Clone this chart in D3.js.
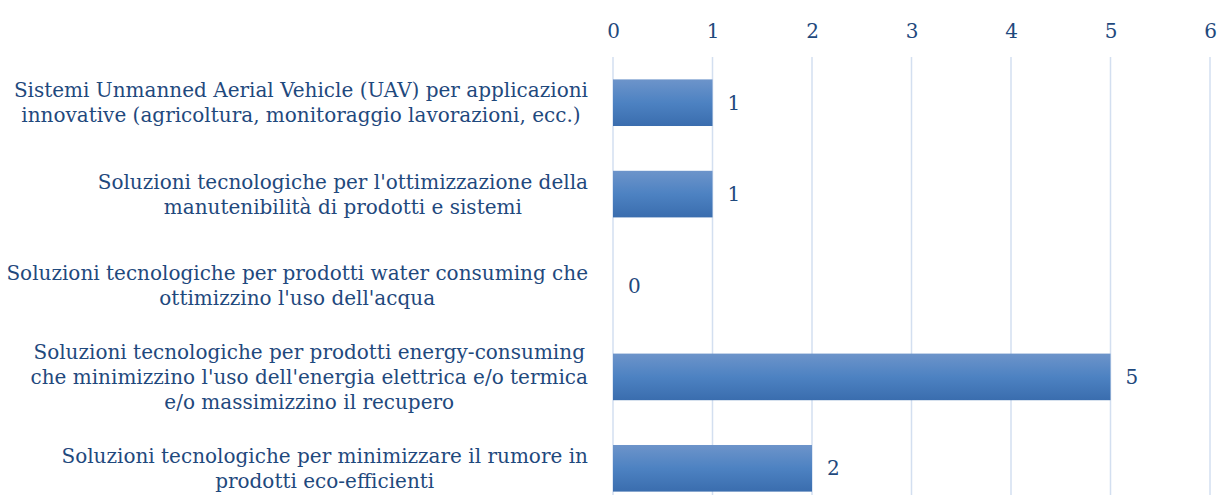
<!DOCTYPE html>
<html>
<head>
<meta charset="utf-8">
<script src="https://cdn.jsdelivr.net/npm/d3@7"></script>
<style>
  body { margin: 0; background: #fff; }
  text { font-family: "DejaVu Serif", serif; fill: #1F497D; }
</style>
</head>
<body>
<div id="chart"></div>
<script>
// categories (lines split as in the original chart)
var categories = [
  "Sistemi Unmanned Aerial Vehicle (UAV) per applicazioni\ninnovative (agricoltura, monitoraggio lavorazioni, ecc.)",
  "Soluzioni tecnologiche per l'ottimizzazione della\nmanutenibilità di prodotti e sistemi",
  "Soluzioni tecnologiche per prodotti water consuming che\nottimizzino l'uso dell'acqua",
  "Soluzioni tecnologiche per prodotti energy-consuming\nche minimizzino l'uso dell'energia elettrica e/o termica\ne/o massimizzino il recupero",
  "Soluzioni tecnologiche per minimizzare il rumore in\nprodotti eco-efficienti"
];
var values = [1, 1, 0, 5, 2];
var xTicks = [0, 1, 2, 3, 4, 5, 6];

var width = 1218, height = 495;
var margin = {top: 57, left: 613, right: 8};
var plotBottom = 514; // plot runs past the bottom of the picture

var svg = d3.select("#chart")
  .append("svg")
    .attr("width", width)
    .attr("height", height);

var grad = svg.append("defs").append("linearGradient")
    .attr("id", "barGrad")
    .attr("x1", 0).attr("y1", 0).attr("x2", 0).attr("y2", 1);
grad.append("stop").attr("offset", "0%").attr("stop-color", "#6D94CA");
grad.append("stop").attr("offset", "50%").attr("stop-color", "#4D82C2");
grad.append("stop").attr("offset", "100%").attr("stop-color", "#3A6DAE");

var x = d3.scaleLinear()
    .domain([0, 6])
    .range([margin.left, width - margin.right]);

var y = d3.scaleBand()
    .domain(categories)
    .range([margin.top, plotBottom])
    .paddingInner(0.49)
    .paddingOuter(0.245);

// gridlines
svg.append("g")
  .selectAll("line")
  .data(xTicks)
  .enter()
  .append("line")
    .attr("x1", function(d) { return x(d); })
    .attr("x2", function(d) { return x(d); })
    .attr("y1", margin.top)
    .attr("y2", plotBottom)
    .attr("stroke", "#D3DFF0")
    .attr("stroke-width", 1.5);

// top axis labels
var xAxis = svg.append("g")
    .attr("transform", "translate(0,38)")
    .call(d3.axisTop(x).tickValues(xTicks).tickFormat(d3.format("d")).tickSize(0).tickPadding(0));
xAxis.select(".domain").remove();
xAxis.selectAll("text")
    .attr("font-size", "20px")
    .attr("font-family", "DejaVu Serif, serif")
    .attr("fill", "#1F497D");

// bars
svg.append("g")
  .selectAll("rect")
  .data(values)
  .enter()
  .append("rect")
    .attr("x", x(0))
    .attr("y", function(d, i) { return y(categories[i]); })
    .attr("width", function(d) { return x(d) - x(0); })
    .attr("height", y.bandwidth())
    .attr("fill", "url(#barGrad)");

// value labels
svg.append("g")
  .selectAll("text")
  .data(values)
  .enter()
  .append("text")
    .attr("x", function(d) { return x(d) + 15; })
    .attr("y", function(d, i) { return y(categories[i]) + y.bandwidth() / 2; })
    .attr("dy", "0.35em")
    .attr("font-size", "20px")
    .text(function(d) { return d; });

// category labels
var lineH = 25;
var labels = svg.append("g")
  .selectAll("text")
  .data(categories)
  .enter()
  .append("text")
    .attr("text-anchor", "middle")
    .attr("font-size", "20px")
    .attr("y", function(d) { return y(d) + y.bandwidth() / 2; });

labels.each(function(d) {
  var lines = d.split("\n");
  var t = d3.select(this);
  lines.forEach(function(l, j) {
    t.append("tspan")
      .attr("x", 0)
      .attr("y", y(d) + y.bandwidth() / 2 + (j - (lines.length - 1) / 2) * lineH)
      .attr("dy", "0.35em")
      .text(l);
  });
});

// center each label block so its right edge sits at x=588
labels.each(function() {
  var bb = this.getBBox();
  var cx = 588 - bb.width / 2;
  d3.select(this).selectAll("tspan").attr("x", cx);
});
</script>
</body>
</html>
